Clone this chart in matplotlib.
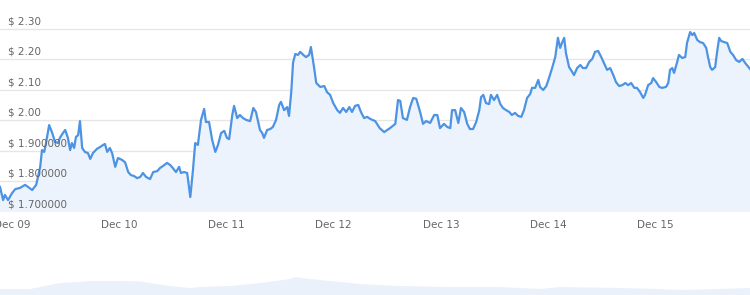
import matplotlib
matplotlib.use('Agg')
import matplotlib.pyplot as plt
import matplotlib.dates as mdates
import matplotlib.transforms as mtransforms
import numpy as np
import pandas as pd

# ------------------------------------------
# data: hours after Dec 09 00:00, price in $
# ------------------------------------------
hours = [
    -2.7, -2.0, -1.6, -0.9, 0.0, 0.7, 1.8, 2.9, 3.6, 4.5, 5.4, 6.3, 6.7, 7.2, 7.6, 8.3,
    9.0, 9.6, 10.3, 10.7, 11.4, 11.9, 12.5, 13.0, 13.4, 13.9, 14.3, 14.8, 15.2, 15.7,
    16.3, 17.0, 17.5, 18.1, 19.0, 19.7, 20.4, 20.8, 21.3, 21.9, 22.4, 23.1, 23.7, 24.6,
    25.3, 26.0, 26.6, 27.3, 28.0, 28.7, 29.3, 30.0, 30.9, 31.6, 32.5, 33.1, 33.8, 34.7,
    35.4, 36.0, 36.7, 37.4, 37.8, 38.5, 39.2, 39.9, 40.5, 41.0, 41.6, 42.3, 43.0, 43.4,
    44.1, 44.8, 45.5, 46.1, 46.8, 47.5, 48.1, 48.6, 49.3, 49.7, 50.4, 51.0, 51.7, 52.4,
    53.3, 54.0, 54.6, 55.1, 55.5, 56.0, 56.4, 57.1, 57.8, 58.4, 59.1, 59.8, 60.2, 60.9,
    61.6, 62.0, 62.5, 62.9, 63.4, 64.0, 64.5, 65.2, 65.8, 66.5, 66.9, 67.6, 68.1, 69.0,
    69.9, 70.5, 71.2, 71.9, 72.8, 73.4, 74.1, 74.8, 75.5, 76.1, 76.8, 77.5, 78.1, 78.8,
    79.5, 80.2, 81.3, 82.3, 83.3, 84.6, 85.8, 86.4, 86.9, 87.5, 88.4, 89.1, 89.8, 90.5,
    91.4, 92.0, 92.7, 93.6, 94.5, 95.2, 95.8, 96.7, 97.4, 98.1, 98.5, 99.2, 99.9, 100.5,
    101.2, 101.9, 102.5, 103.2, 103.9, 104.6, 105.0, 105.5, 106.1, 106.8, 107.2, 107.9,
    108.6, 109.3, 109.9, 110.6, 111.3, 111.9, 112.6, 113.3, 114.0, 114.6, 115.3, 116.0,
    116.4, 117.1, 117.8, 118.2, 118.9, 119.6, 120.2, 120.9, 121.6, 122.2, 122.7, 123.1,
    123.6, 124.0, 124.7, 125.4, 125.8, 126.5, 127.2, 127.8, 128.5, 129.2, 129.9, 130.5,
    131.2, 131.9, 132.5, 133.2, 133.9, 134.6, 135.2, 135.9, 136.6, 137.3, 137.9, 138.6,
    139.3, 139.9, 140.6, 141.3, 141.7, 142.4, 143.1, 143.5, 144.2, 144.9, 145.5, 146.4,
    146.9, 147.3, 147.8, 148.2, 148.9, 149.3, 150.0, 150.7, 151.1, 151.8, 152.3, 152.7,
    153.4, 154.0, 154.7, 155.4, 155.8, 156.3, 156.7, 157.4, 157.8, 158.3, 158.7, 159.4,
    160.1, 160.8, 161.4, 162.1, 162.8, 163.5, 164.1, 165.2,
]
prices = [
    1.782, 1.739, 1.756, 1.739, 1.762, 1.775, 1.779, 1.789, 1.782, 1.772, 1.789, 1.848, 1.903, 1.897, 1.926, 1.985,
    1.959, 1.930, 1.926, 1.943, 1.959, 1.969, 1.943, 1.903, 1.926, 1.910, 1.946, 1.952, 1.998, 1.910,
    1.897, 1.893, 1.874, 1.893, 1.907, 1.913, 1.920, 1.923, 1.897, 1.910, 1.893, 1.848, 1.877, 1.871,
    1.863, 1.831, 1.821, 1.818, 1.811, 1.815, 1.828, 1.815, 1.808, 1.831, 1.834, 1.844, 1.851, 1.861,
    1.854, 1.844, 1.831, 1.848, 1.828, 1.831, 1.828, 1.749, 1.838, 1.926, 1.920, 2.002, 2.038, 1.995,
    1.995, 1.936, 1.897, 1.920, 1.959, 1.966, 1.943, 1.939, 2.018, 2.048, 2.008, 2.018, 2.008, 2.002,
    1.998, 2.041, 2.028, 1.995, 1.969, 1.959, 1.943, 1.969, 1.972, 1.979, 2.002, 2.051, 2.061, 2.034,
    2.044, 2.015, 2.093, 2.189, 2.218, 2.215, 2.225, 2.215, 2.208, 2.215, 2.241, 2.175, 2.123, 2.110,
    2.113, 2.093, 2.084, 2.057, 2.034, 2.025, 2.041, 2.028, 2.044, 2.028, 2.048, 2.051, 2.028, 2.008,
    2.012, 2.005, 1.998, 1.975, 1.962, 1.975, 1.989, 2.067, 2.064, 2.008, 2.002, 2.044, 2.074, 2.071,
    2.025, 1.989, 1.998, 1.992, 2.018, 2.018, 1.975, 1.989, 1.979, 1.975, 2.034, 2.034, 1.992, 2.041,
    2.028, 1.989, 1.972, 1.972, 1.995, 2.034, 2.077, 2.084, 2.057, 2.054, 2.084, 2.067,
    2.084, 2.054, 2.041, 2.034, 2.028, 2.018, 2.025, 2.015, 2.012, 2.034, 2.074, 2.087,
    2.107, 2.107, 2.133, 2.110, 2.100, 2.113, 2.139, 2.172, 2.208, 2.271, 2.238, 2.254,
    2.271, 2.221, 2.175, 2.159, 2.149, 2.172, 2.182, 2.172, 2.172, 2.192, 2.202, 2.225,
    2.228, 2.208, 2.189, 2.166, 2.172, 2.149, 2.126, 2.113, 2.116, 2.123, 2.116, 2.123,
    2.107, 2.107, 2.093, 2.074, 2.084, 2.116, 2.123, 2.139, 2.126, 2.110, 2.107, 2.110,
    2.123, 2.166, 2.172, 2.156, 2.192, 2.215, 2.205, 2.208, 2.254, 2.290, 2.280, 2.287,
    2.264, 2.257, 2.254, 2.238, 2.208, 2.175, 2.166, 2.175, 2.221, 2.271, 2.261, 2.257,
    2.254, 2.225, 2.215, 2.198, 2.192, 2.202, 2.189, 2.169,
]

y_ticks = [1.70, 1.80, 1.90, 2.00, 2.10, 2.20, 2.30]
y_labels = ['$ 1.700000', '$ 1.800000', '$ 1.900000', '$ 2.00', '$ 2.10', '$ 2.20', '$ 2.30']
day_ticks = ['2019-12-09', '2019-12-10', '2019-12-11', '2019-12-12',
             '2019-12-13', '2019-12-14', '2019-12-15']

# navigator (longer history, % of range vs relative level)
nav_pct = [0, 4, 6, 8, 10.7, 12, 16, 18.7, 20, 22.7, 25.3, 26.7, 30.7, 34.7, 38.7,
           39.3, 41.3, 44, 48, 53.3, 60, 66.7, 69.3, 72, 74.7, 82.7, 88, 90.7, 96, 100]
nav_level = [6, 6, 9, 12, 13, 14, 14, 13.5, 12, 9, 7, 8, 9, 12, 16,
             18, 16, 14, 11, 9, 8, 8, 7, 6, 8, 7, 6, 5, 6, 7]

# ------------------------------------------
# style
# ------------------------------------------
plt.rcParams['font.family'] = ['DejaVu Sans']
line_color = '#4d93e3'
fill_color = '#ecf3fc'
grid_color = '#e6e6e6'
text_color = '#666666'

times = pd.Timestamp('2019-12-09') + pd.to_timedelta(hours, unit='h')
day_ts = pd.to_datetime(day_ticks)

fig = plt.figure(figsize=(7.5, 2.95), dpi=100)
ax = fig.add_axes([0, 83 / 295, 1, 212 / 295])

ax.fill_between(times, prices, y_ticks[0], color=fill_color, lw=0)
ax.plot(times, prices, color=line_color, lw=1.6, solid_joinstyle='round')

ax.set_ylim(1.70, 1.70 + 212 / 305)
ax.set_xlim(times[0], times[-1])
ax.set_yticks(y_ticks)
ax.grid(axis='y', color=grid_color, lw=1)
ax.set_axisbelow(True)
for s in ax.spines.values():
    s.set_visible(False)

# y labels sit above their gridline, inside the plot
trans = mtransforms.blended_transform_factory(ax.transAxes, ax.transData)
trans = trans + mtransforms.ScaledTranslation(0, 2 / 72, fig.dpi_scale_trans)
for v, lab in zip(y_ticks, y_labels):
    ax.text(8 / 750, v, lab, transform=trans, ha='left', va='bottom',
            fontsize=7.5, color=text_color)

ax.set_xticks(day_ts)
ax.xaxis.set_major_formatter(mdates.DateFormatter('%b %d'))
ax.tick_params(axis='x', length=0, pad=6, labelsize=7.5, labelcolor=text_color)
ax.tick_params(axis='y', length=0, labelleft=False)

# navigator strip at the bottom
nav = fig.add_axes([0, 0, 1, 33 / 295])
nav.fill_between(nav_pct, nav_level, 0, color='#ebf1fb', lw=0)
nav.set_xlim(0, 100)
nav.set_ylim(0, 33)
nav.axis('off')

fig.savefig('out.png', dpi=100)
